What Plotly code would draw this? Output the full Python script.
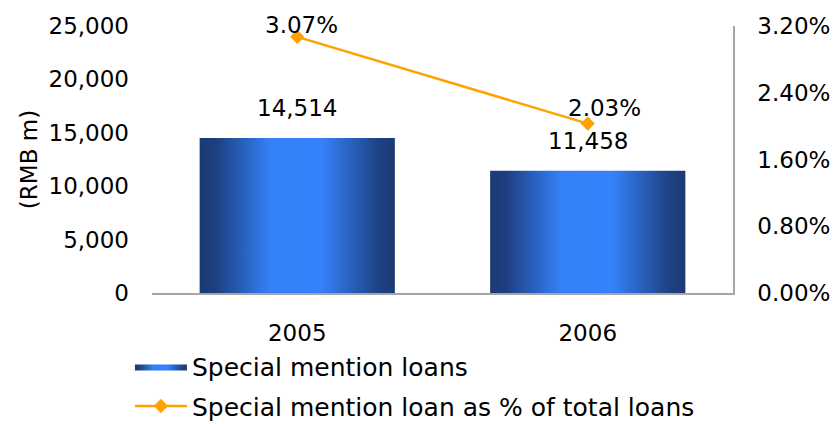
import plotly.graph_objects as go

# Data
years = ["2005", "2006"]
sml_amount = [14514, 11458]          # RMB m
sml_ratio = [0.0307, 0.0203]         # share of total loans

BAR_HALF = 0.336
FONT = "DejaVu Sans, Liberation Sans, Arial, sans-serif"
BAR_SCALE = [[0.0, "#1b3a74"], [0.08, "#1d3f7e"], [0.36, "#3480f8"],
             [0.62, "#3582fc"], [0.92, "#1e4182"], [1.0, "#1b3a74"]]

fig = go.Figure()

# Bars drawn as filled rectangles so they can carry a horizontal gradient
for i, (yr, v) in enumerate(zip(years, sml_amount)):
    x0, x1 = i - BAR_HALF, i + BAR_HALF
    fig.add_trace(go.Scatter(
        x=[x0, x0, x1, x1, x0], y=[0, v, v, 0, 0],
        mode="lines", fill="toself", line=dict(width=0),
        fillgradient=dict(type="horizontal", colorscale=BAR_SCALE),
        name="Special mention loans", legendgroup="bars",
        showlegend=(i == 0), hoverinfo="skip",
    ))

# Ratio line on the secondary axis
fig.add_trace(go.Scatter(
    x=list(range(len(years))), y=sml_ratio, yaxis="y2",
    mode="lines+markers",
    line=dict(color="#ffa200", width=2.5),
    marker=dict(symbol="diamond", size=11, color="#ffa200"),
    name="Special mention loan as % of total loans",
    legendgroup="ratio",
))

annotations = []
for i, v in enumerate(sml_amount):
    annotations.append(dict(x=i, y=v, xref="x", yref="y", text=f"{v:,}",
                            showarrow=False, yanchor="middle", yshift=30,
                            font=dict(size=23, color="#000", family=FONT)))
shifts = [(4, 12), (17, 16)]
for i, r in enumerate(sml_ratio):
    annotations.append(dict(x=i, y=r, xref="x", yref="y2", text=f"{r*100:.2f}%",
                            showarrow=False, yanchor="middle",
                            xshift=shifts[i][0], yshift=shifts[i][1],
                            font=dict(size=23, color="#000", family=FONT)))

fig.update_layout(
    width=834, height=424,
    margin=dict(l=152, r=101, t=26, b=131, autoexpand=False),
    paper_bgcolor="white", plot_bgcolor="white",
    font=dict(family=FONT, size=23, color="#000"),
    showlegend=True,
    legend=dict(x=-0.038, y=-0.19, xanchor="left", yanchor="top",
                orientation="v", font=dict(size=25, family=FONT),
                itemwidth=52, tracegroupgap=4, bgcolor="rgba(0,0,0,0)"),
    xaxis=dict(range=[-0.5, 1.5], tickvals=list(range(len(years))), ticktext=years,
               showgrid=False, zeroline=False, showline=True,
               linecolor="#a6a6a6", linewidth=2, ticks="",
               ticklabelstandoff=18, fixedrange=True),
    yaxis=dict(range=[0, 25000], dtick=5000, tickformat=",",
               showgrid=False, zeroline=False, showline=False, ticks="",
               ticklabelstandoff=22,
               title=dict(text="(RMB m)", standoff=4, font=dict(size=23))),
    yaxis2=dict(range=[0, 0.032], dtick=0.008, tickformat=".2%",
                overlaying="y", side="right", showgrid=False, zeroline=False,
                showline=True, linecolor="#a6a6a6", linewidth=1.5,
                ticks="outside", ticklen=18, tickcolor="rgba(0,0,0,0)"),
    annotations=annotations,
)

fig.write_html("out.html")
